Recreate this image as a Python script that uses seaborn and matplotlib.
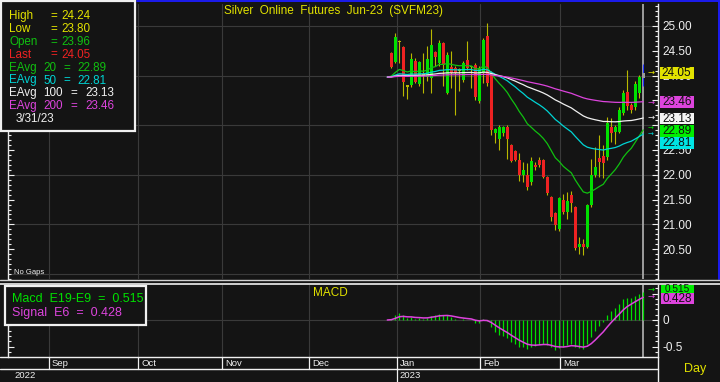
import numpy as np
import pandas as pd
import matplotlib
matplotlib.use("Agg")
import matplotlib.pyplot as plt
import matplotlib.transforms as mtransforms
from matplotlib.lines import Line2D
from matplotlib.patches import Rectangle
from matplotlib.ticker import MultipleLocator, FixedLocator, FixedFormatter
import seaborn as sns

# ---------------- data ----------------
bar_open = [24.45, 24.28, 24.68, 24.58, 23.78, 23.81, 24.30, 23.84, 24.00, 23.97,
            23.95, 24.48, 24.25, 24.66, 23.65, 24.18, 24.15, 24.12, 23.92, 24.32,
            24.18, 24.22, 23.49, 24.05, 24.79, 24.05, 22.85, 22.72, 22.85, 22.97,
            22.61, 22.47, 22.30, 22.00, 22.00, 21.85, 22.20, 22.30, 22.30, 21.96,
            21.56, 21.22, 20.90, 21.49, 21.24, 21.60, 21.36, 20.54, 20.60, 20.55,
            21.39, 22.00, 22.34, 22.37, 22.35, 22.96, 22.86, 22.87, 23.24, 23.66,
            23.41, 23.37, 23.64, 23.96]
bar_high = [24.47, 24.86, 24.72, 24.60, 23.82, 24.45, 24.35, 24.30, 24.45, 24.60,
            24.93, 24.50, 24.72, 24.68, 24.48, 24.49, 24.20, 24.15, 24.30, 24.70,
            24.20, 24.25, 24.20, 24.75, 25.06, 24.10, 22.95, 23.00, 22.98, 23.00,
            22.63, 22.50, 22.44, 22.25, 22.23, 22.35, 22.26, 22.36, 22.32, 21.98,
            21.58, 21.25, 21.56, 21.61, 21.66, 21.68, 21.38, 20.75, 20.70, 21.42,
            22.31, 22.57, 22.80, 22.60, 23.17, 23.15, 23.00, 23.37, 23.71, 24.11,
            23.45, 23.90, 24.02, 24.24]
bar_low = [24.15, 24.25, 24.25, 23.59, 23.53, 23.78, 23.85, 23.80, 23.65, 23.90,
           23.64, 24.20, 24.20, 23.80, 23.62, 23.75, 23.21, 23.68, 23.88, 24.12,
           23.75, 23.50, 23.45, 23.85, 23.80, 22.81, 22.65, 22.50, 22.78, 22.31,
           22.25, 22.28, 21.88, 21.85, 21.69, 21.80, 22.10, 22.15, 21.93, 21.60,
           21.07, 20.89, 20.87, 21.20, 21.10, 21.24, 20.48, 20.40, 20.38, 20.52,
           21.35, 21.95, 21.95, 21.93, 22.30, 22.67, 22.63, 22.84, 23.20, 23.30,
           23.25, 23.30, 23.55, 23.80]
bar_close = [24.17, 24.77, 24.70, 23.88, 23.80, 24.33, 23.88, 24.28, 24.02, 24.33,
             24.62, 24.38, 24.66, 24.22, 24.42, 24.05, 24.05, 24.10, 24.25, 24.15,
             24.17, 23.56, 24.15, 24.72, 23.85, 22.91, 22.92, 22.97, 22.96, 22.72,
             22.28, 22.30, 21.99, 22.10, 21.75, 22.28, 22.15, 22.20, 21.95, 21.63,
             21.14, 20.99, 21.53, 21.26, 21.47, 21.43, 20.52, 20.60, 20.55, 21.39,
             22.00, 22.15, 22.26, 22.24, 23.05, 22.85, 22.96, 23.31, 23.64, 23.39,
             23.31, 23.84, 23.98, 24.05]

ema_start = 23.97                      # level where the averages begin
ema_periods = [20, 50, 100, 200]
macd_fast, macd_slow, macd_signal = 9, 19, 6

info_names = ["High", "Low", "Open", "Last"]
info_values = ["24.24", "23.80", "23.96", "24.05"]
ema_names = ["20", "50", "100", "200"]
ema_values = ["22.89", "22.81", "23.13", "23.46"]
last_date = "3/31/23"
macd_value = "0.515"
signal_value = "0.428"

price_ticks = [20.5, 21.0, 21.5, 22.0, 22.5, 23.0, 23.5, 24.0, 24.5, 25.0]
price_tick_labels = ["20.50", "21.00", "21.50", "22.00", "22.50", "", "", "24.00", "24.50", "25.00"]
price_grid = [20, 21, 22, 23, 24, 25]
macd_ticks = [-0.5, 0.0, 0.5]
macd_tick_labels = ["-0.5", "0", ""]
month_labels = ["Sep", "Oct", "Nov", "Dec", "Jan", "Feb", "Mar"]
year_labels = ["2022", "2023"]

# ---------------- layout / style ----------------
W, H = 720, 382
BG = "#141414"
GRID = "#3a3a3a"
WHITE = "#f0f0f0"
YELLOW = "#e2e200"
GREEN = "#00e000"
EMA_GREEN = "#10c010"
RED = "#ee2222"
CYAN = "#00d4d4"
MAGENTA = "#dd44dd"
WICK = "#b8b800"
ema_colors = [EMA_GREEN, CYAN, WHITE, MAGENTA]
month_pos = [-85.6, -63.3, -42.3, -20.6, 1.35, 22.2, 42.2]

sns.set_theme(style="dark", rc={"axes.facecolor": BG, "figure.facecolor": BG})
plt.rcParams['font.family'] = ['Liberation Sans', 'DejaVu Sans']


def fx(px):
    return px / W


def fy(py):
    return 1 - py / H


def rect(x0, y0, x1, y1):
    return [x0 / W, 1 - y1 / H, (x1 - x0) / W, (y1 - y0) / H]


fig = plt.figure(figsize=(7.2, 3.82), dpi=100)
fig.patch.set_facecolor(BG)

ax = fig.add_axes(rect(8, 4, 658, 279))
axm = fig.add_axes(rect(8, 285, 658, 357))

o = np.array(bar_open)
h = np.array(bar_high)
l = np.array(bar_low)
c = np.array(bar_close)
idx = np.arange(len(c))
n = len(c)

x_left = (8 - 391.3) / 4
x_right = (658 - 391.3) / 4

for a in (ax, axm):
    a.set_facecolor(BG)
    a.set_xlim(x_left, x_right)
    for m in month_pos:
        a.axvline(m, color=GRID, lw=0.8, zorder=0)
    a.axvline(idx[-1] - 0.15, color="#a8a8a8", lw=1.3, zorder=1)
    for s in ("top", "bottom"):
        a.spines[s].set_visible(False)
    for s in ("left", "right"):
        a.spines[s].set_visible(True)
        a.spines[s].set_color("#e8e8e8")
        a.spines[s].set_linewidth(1.0)
    a.set_xticks([])
    a.grid(False)

# ---------- main price panel ----------
ax.set_ylim(25 - (279 - 26) / 49.6, 25 + (26 - 4) / 49.6)
for p in price_grid:
    ax.axhline(p, color=GRID, lw=0.8, zorder=0)

small = np.abs(c - o) < 0.03
body_col = np.where(small, WICK, np.where(c >= o, GREEN, RED)).astype(object)
wick_col = np.array([WICK] * n, dtype=object)
body_col[-1] = "#9a9a9a"
wick_col[-1] = "#2233ff"
ax.vlines(idx, l, h, colors=list(wick_col), lw=0.8, zorder=2)
ax.bar(idx, np.maximum(np.abs(c - o), 0.025), bottom=np.minimum(o, c), width=0.75,
       color=list(body_col), linewidth=0, zorder=3)

series = pd.Series([ema_start] + list(bar_close))
x_line = np.arange(-1, n)
for p, col in zip(ema_periods, ema_colors):
    e = series.ewm(span=p, adjust=False).mean()
    sns.lineplot(x=x_line, y=e.values, ax=ax, color=col, lw=0.9, legend=False, zorder=5)

ax.yaxis.set_major_locator(FixedLocator(price_ticks))
ax.yaxis.set_major_formatter(FixedFormatter(price_tick_labels))
ax.yaxis.set_minor_locator(MultipleLocator(0.1))
ax.tick_params(axis='y', which='both', direction='in', left=True, right=True,
               labelleft=False, labelright=True, colors=WHITE, labelsize=8.5, pad=3)
ax.tick_params(axis='y', which='major', length=4, width=0.8)
ax.tick_params(axis='y', which='minor', length=2.5, width=0.8)
ax.set_xlabel("")
ax.set_ylabel("")

# ---------- MACD panel ----------
fast = series.ewm(span=macd_fast, adjust=False).mean()
slow = series.ewm(span=macd_slow, adjust=False).mean()
macd = fast - slow
signal = macd.ewm(span=macd_signal, adjust=False).mean()

axm.set_ylim(-(357 - 320) / 53, (320 - 285) / 53)
axm.axhline(0, color=GRID, lw=0.8, zorder=0)
axm.vlines(idx, 0, macd.values[1:], colors=GREEN, lw=0.9, zorder=2)
sns.lineplot(x=x_line, y=signal.values, ax=axm, color=MAGENTA, lw=1.1, legend=False, zorder=4)
axm.yaxis.set_major_locator(FixedLocator(macd_ticks))
axm.yaxis.set_major_formatter(FixedFormatter(macd_tick_labels))
axm.yaxis.set_minor_locator(MultipleLocator(0.1))
axm.tick_params(axis='y', which='both', direction='in', left=True, right=True,
                labelleft=False, labelright=True, colors=WHITE, labelsize=8.5, pad=3)
axm.tick_params(axis='y', which='major', length=4, width=0.8)
axm.tick_params(axis='y', which='minor', length=2.5, width=0.8)
axm.set_xlabel("")
axm.set_ylabel("")


def hline(y, x0, x1, color="#e8e8e8", lw=1.0):
    fig.add_artist(Line2D([fx(x0), fx(x1)], [fy(y), fy(y)], color=color, lw=lw,
                          transform=fig.transFigure))


def vline(x, y0, y1, color="#e8e8e8", lw=1.0):
    fig.add_artist(Line2D([fx(x), fx(x)], [fy(y0), fy(y1)], color=color, lw=lw,
                          transform=fig.transFigure))


# frame lines
hline(0.7, 137, 720, color="#1c1cf0", lw=1.4)
vline(719.3, 0, 279, color="#1c1cf0", lw=1.4)
hline(279.5, 0, 720, color="#d0d0d0", lw=1.0)
hline(283.8, 0, 720, color="#f0f0f0", lw=1.2)
hline(357.3, 0, 658, color="#f0f0f0", lw=1.0)
hline(368.6, 0, 658, color="#f0f0f0", lw=1.0)
vline(658.3, 357, 382, color="#f0f0f0", lw=1.0)

# date axis
trans = mtransforms.blended_transform_factory(axm.transData, fig.transFigure)
for m, lab in zip(month_pos, month_labels):
    fig.add_artist(Line2D([m, m], [fy(357.3), fy(368.6)], transform=trans,
                          color="#f0f0f0", lw=0.9))
    fig.text(m + 0.75, fy(363.5), lab, transform=trans, color=WHITE, fontsize=6.8,
             va="center", ha="left")
fig.add_artist(Line2D([month_pos[4], month_pos[4]], [fy(368.6), fy(382)], transform=trans,
                      color="#f0f0f0", lw=0.9))
fig.text(fx(14.5), fy(375.5), year_labels[0], color=WHITE, fontsize=6.8, va="center")
fig.text(month_pos[4] + 0.75, fy(375.5), year_labels[1], transform=trans, color=WHITE,
         fontsize=6.8, va="center")
fig.text(fx(684), fy(369), "Day", color=YELLOW, fontsize=9, va="center")

# titles
fig.text(fx(333), fy(11.3), "Silver  Online  Futures  Jun-23  (SVFM23)", color=YELLOW,
         fontsize=8.5, ha="center", va="center")
fig.text(fx(330), fy(293), "MACD", color=YELLOW, fontsize=8.5, ha="center", va="center")
fig.text(fx(14), fy(272), "No Gaps", color=WHITE, fontsize=5.5, va="center")

# legend box main
fig.add_artist(Rectangle((fx(0.8), fy(130.5)), fx(135) - fx(0.8), fy(0.8) - fy(130.5),
                         transform=fig.transFigure, facecolor=BG, edgecolor="#f0f0f0",
                         lw=1.6, zorder=10))
FS = 8.4
rows_y = [15.7, 28.9, 42.0, 54.5, 68.0, 80.5, 93.0, 105.8, 119.0]
info_cols = [YELLOW, YELLOW, EMA_GREEN, RED]
for i, (nm, val) in enumerate(zip(info_names, info_values)):
    y = fy(rows_y[i])
    fig.text(fx(9.3), y, nm, color=info_cols[i], fontsize=FS, va="center", zorder=11)
    fig.text(fx(50), y, "=", color=info_cols[i], fontsize=FS, va="center", zorder=11)
    fig.text(fx(61.5), y, val, color=info_cols[i], fontsize=FS, va="center", zorder=11)
for j, (nm, val) in enumerate(zip(ema_names, ema_values)):
    y = fy(rows_y[4 + j])
    col = ema_colors[j]
    eq_x, v_x = (63, 77) if len(nm) == 2 else (70.5, 85)
    fig.text(fx(9.3), y, "EAvg", color=col, fontsize=FS, va="center", zorder=11)
    fig.text(fx(43), y, nm, color=col, fontsize=FS, va="center", zorder=11)
    fig.text(fx(eq_x), y, "=", color=col, fontsize=FS, va="center", zorder=11)
    fig.text(fx(v_x), y, val, color=col, fontsize=FS, va="center", zorder=11)
fig.text(fx(15.5), fy(rows_y[8]), last_date, color=WHITE, fontsize=FS, va="center", zorder=11)

# legend box MACD
fig.add_artist(Rectangle((fx(4.5), fy(324.5)), fx(146) - fx(4.5), fy(285.5) - fy(324.5),
                         transform=fig.transFigure, facecolor=BG, edgecolor="#f0f0f0",
                         lw=1.6, zorder=10))
fig.text(fx(11.5), fy(299.5), "Macd  E19-E9  =  " + macd_value, color=GREEN, fontsize=9,
         va="center", zorder=11)
fig.text(fx(11.5), fy(312.8), "Signal  E6  =  " + signal_value, color=MAGENTA, fontsize=9,
         va="center", zorder=11)


# value boxes on the right
def value_box(yc, text, face, x0=660, x1=693.5, hgt=11.8, fs=8.5):
    fig.add_artist(Rectangle((fx(x0), fy(yc + hgt / 2)), fx(x1) - fx(x0), hgt / H,
                             transform=fig.transFigure, facecolor=face, edgecolor="none",
                             zorder=12))
    fig.text(fx((x0 + x1) / 2), fy(yc + 0.3), text, color="#101010", fontsize=fs,
             ha="center", va="center", zorder=13)


def arrow(yc, color, fs=6):
    fig.text(fx(650.5), fy(yc), "\u2192", color=color, fontsize=fs, ha="center",
             va="center", zorder=13, family="DejaVu Sans")


value_box(72.8, info_values[3], YELLOW)
value_box(102.0, ema_values[3], MAGENTA)
value_box(118.4, ema_values[2], "#f4f4f4")
value_box(130.9, ema_values[0], "#00ee00")
value_box(143.2, ema_values[1], "#00e4e4")
arrow(72.0, YELLOW)
arrow(101.8, MAGENTA)
arrow(117.3, WHITE)
arrow(128.4, GREEN, fs=5)
arrow(134.6, CYAN, fs=5)

value_box(288.8, macd_value, "#00ee00", x0=661, x1=694, hgt=8.5, fs=7.2)
value_box(298.6, signal_value, MAGENTA, x0=661, x1=694, hgt=10.5)
arrow(289.0, GREEN)
arrow(296.5, MAGENTA)

fig.savefig("out.png", dpi=100, facecolor=BG)
